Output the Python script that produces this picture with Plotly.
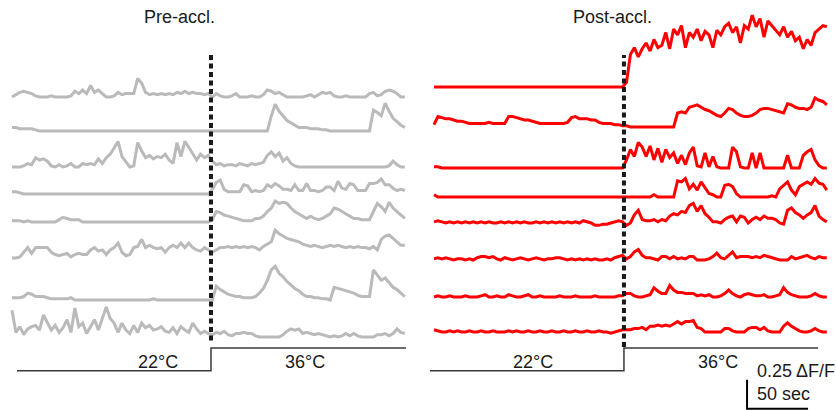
import numpy as np
import plotly.graph_objects as go

FRAME_S = 3.22  # seconds between imaging frames

# ---- dF/F traces (percent), one value per frame ----
pre_1 = [
    0, 2, 4, 5, 4, 3, 1, 0, 0, 0,
    1, 0, 0, 0, 0, 1, 5, 3, 6, 3,
    10, 4, 6, 3, 0, 0, 1, 4, 2, 3,
    3, 3, 16, 12, 4, 2, 3, 2, 3, 2,
    3, 2, 4, 3, 5, 3, 4, 3, 3, 2,
    3, 0, 3, 1, 0, 0, 1, 3, 0, 0,
    0, 1, 0, 0, 2, 6, 5, 3, 4, 2,
    0, 0, 0, 0, 0, 1, 2, 0, 2, 4,
    3, 4, 1, 0, 0, 1, 0, 0, 0, 0,
    0, 3, 4, 1, 2, 5, 6, 5, 3, 0,
    0]
pre_2 = [
    3, 3, 2, 2, 2, 2, 1, 0, 0, 0,
    0, 0, 0, 0, 0, 0, 0, 0, 0, 0,
    0, 0, 0, 0, 0, 0, 0, 0, 0, 0,
    0, 0, 0, 0, 0, 0, 0, 0, 0, 0,
    0, 0, 0, 0, 0, 0, 0, 0, 0, 0,
    0, 0, 0, 0, 0, 0, 0, 0, 0, 0,
    0, 0, 0, 0, 0, 0, 13, 23, 17, 13,
    9, 7, 5, 3, 3, 3, 2, 2, 2, 1,
    1, 0, 0, 0, 0, 0, 0, 0, 0, 0,
    0, 0, 18, 16, 13, 24, 17, 11, 8, 5,
    3]
pre_3 = [
    0, 0, 0, 1, 3, 2, 8, 6, 7, 5,
    1, 0, 2, 0, 1, 3, 0, 0, 3, 2,
    3, 2, 7, 3, 8, 11, 16, 22, 9, 4,
    0, 1, 21, 14, 8, 10, 7, 9, 8, 11,
    6, 3, 21, 9, 22, 17, 12, 6, 11, 8,
    10, 5, 2, 3, 1, 2, 2, 1, 3, 2,
    1, 3, 2, 3, 4, 10, 13, 9, 12, 5,
    8, 3, 1, 0, 0, 0, 0, 0, 0, 0,
    0, 0, 0, 0, 0, 0, 0, 0, 0, 0,
    0, 0, 0, 0, 0, 0, 1, 5, 2, 0,
    0]
pre_4 = [
    2, 2, 1, 0, 0, 0, 0, 0, 0, 0,
    0, 0, 0, 0, 0, 0, 0, 0, 0, 0,
    0, 0, 0, 0, 0, 0, 0, 0, 0, 0,
    0, 0, 0, 0, 0, 0, 0, 0, 0, 0,
    0, 0, 0, 0, 0, 0, 0, 0, 0, 0,
    0, 4, 10, 12, 4, 2, 2, 2, 2, 8,
    7, 2, 3, 2, 3, 8, 6, 9, 7, 4,
    4, 3, 8, 3, 3, 9, 3, 3, 2, 3,
    6, 6, 3, 11, 5, 4, 9, 8, 3, 3,
    3, 9, 9, 10, 13, 8, 8, 5, 3, 4,
    3]
pre_5 = [
    1, 1, 1, 0, 1, 0, 0, 0, 0, 0,
    0, 0, 2, 4, 3, 2, 2, 2, 0, 0,
    0, 0, 0, 0, 0, 0, 0, 0, 0, 0,
    0, 0, 0, 0, 0, 0, 0, 0, 0, 0,
    0, 0, 0, 0, 0, 0, 0, 0, 0, 0,
    0, 2, 9, 8, 6, 5, 4, 3, 2, 1,
    1, 1, 3, 3, 5, 9, 12, 18, 16, 17,
    16, 12, 9, 7, 5, 3, 5, 3, 2, 3,
    5, 7, 12, 11, 9, 7, 5, 3, 3, 2,
    2, 2, 9, 16, 13, 9, 17, 12, 9, 6,
    3]
pre_6 = [
    0, 0, 1, 5, 9, 4, 9, 9, 9, 9,
    5, 3, 2, 3, 4, 1, 3, 4, 3, 3,
    7, 9, 6, 7, 3, 7, 9, 13, 5, 2,
    3, 9, 10, 16, 9, 11, 9, 8, 9, 5,
    9, 11, 9, 13, 9, 13, 9, 7, 6, 9,
    7, 5, 7, 9, 9, 10, 9, 10, 9, 10,
    9, 10, 9, 7, 10, 12, 14, 24, 21, 19,
    17, 16, 15, 14, 12, 11, 10, 11, 10, 9,
    10, 11, 10, 11, 10, 9, 10, 9, 10, 9,
    9, 8, 10, 7, 16, 19, 20, 17, 14, 11,
    11]
pre_7 = [
    2, 2, 2, 3, 6, 5, 3, 3, 3, 2,
    1, 1, 1, 1, 1, 2, 0, 0, 0, 0,
    0, 0, 0, 0, 0, 0, 0, 0, 0, 0,
    0, 0, 0, 0, 0, 0, 1, 0, 0, 0,
    0, 0, 0, 0, 0, 0, 0, 0, 0, 0,
    0, 0, 12, 9, 7, 5, 4, 3, 3, 2,
    2, 2, 3, 6, 10, 17, 26, 29, 23, 20,
    16, 13, 10, 8, 5, 3, 3, 2, 2, 1,
    1, 0, 11, 10, 9, 8, 7, 6, 4, 3,
    3, 3, 26, 22, 17, 19, 15, 11, 9, 6,
    3]
pre_8 = [
    23, 4, 9, 2, 7, 9, 10, 6, 19, 12,
    6, 10, 4, 8, 15, 4, 25, 9, 12, 3,
    9, 15, 6, 17, 26, 16, 12, 4, 12, 6,
    3, 10, 4, 12, 8, 10, 6, 7, 9, 5,
    4, 8, 3, 9, 6, 4, 12, 7, 3, 5,
    3, 2, 4, 3, 5, 2, 1, 3, 3, 4,
    3, 3, 1, 0, 0, 0, 0, 0, 0, 2,
    5, 7, 6, 7, 3, 4, 3, 2, 3, 2,
    1, 0, 1, 0, 1, 3, 1, 3, 1, 0,
    0, 0, 0, 2, 2, 3, 1, 3, 7, 4,
    3]

post_1 = [
    0, 0, 0, 0, 0, 0, 0, 0, 0, 0,
    0, 0, 0, 0, 0, 0, 0, 0, 0, 0,
    0, 0, 0, 0, 0, 0, 0, 0, 0, 0,
    0, 0, 0, 0, 0, 0, 0, 0, 0, 0,
    0, 0, 0, 0, 0, 0, 0, 0, 0, 4,
    28, 34, 26, 33, 38, 31, 41, 34, 36, 47,
    33, 50, 45, 53, 34, 47, 43, 50, 40, 48,
    45, 34, 49, 45, 52, 55, 47, 52, 38, 53,
    50, 62, 52, 59, 43, 57, 53, 50, 45, 52,
    43, 48, 40, 43, 33, 41, 36, 47, 50, 53,
    52]
post_2 = [
    2, 9, 8, 7, 7, 6, 5, 5, 4, 3,
    3, 3, 3, 3, 4, 3, 3, 3, 3, 9,
    9, 8, 7, 6, 6, 5, 4, 3, 3, 3,
    3, 3, 3, 3, 4, 8, 9, 7, 7, 7,
    6, 6, 4, 3, 3, 3, 2, 2, 1, 1,
    0, 0, 0, 0, 0, 0, 0, 0, 0, 0,
    0, 0, 12, 13, 12, 17, 18, 19, 17, 15,
    14, 12, 10, 9, 12, 16, 15, 12, 10, 9,
    9, 10, 12, 15, 16, 16, 15, 14, 13, 12,
    20, 19, 17, 16, 16, 15, 17, 25, 23, 22,
    19]
post_3 = [
    1, 1, 0, 0, 0, 0, 0, 0, 0, 0,
    0, 0, 0, 0, 0, 0, 0, 0, 0, 0,
    0, 0, 0, 0, 0, 0, 0, 0, 0, 0,
    0, 0, 0, 0, 0, 0, 0, 0, 0, 0,
    0, 0, 0, 0, 0, 0, 0, 0, 0, 7,
    16, 10, 22, 18, 10, 19, 7, 17, 5, 16,
    9, 13, 4, 11, 3, 13, 18, 2, 1, 13,
    1, 10, 1, 0, 0, 0, 18, 14, 1, 0,
    0, 13, 0, 13, 0, 0, 0, 0, 0, 0,
    11, 0, 0, 0, 11, 14, 16, 7, 2, 0,
    0]
post_4 = [
    2, 0, 0, 0, 0, 0, 0, 0, 0, 0,
    0, 0, 0, 0, 0, 0, 0, 0, 0, 0,
    0, 0, 0, 0, 0, 0, 0, 0, 0, 0,
    0, 0, 0, 0, 0, 0, 0, 0, 0, 0,
    0, 0, 0, 0, 0, 0, 0, 0, 0, 0,
    0, 0, 0, 0, 0, 0, 2, 0, 0, 0,
    0, 0, 14, 13, 16, 7, 11, 6, 13, 8,
    3, 2, 0, 0, 10, 11, 9, 3, 0, 0,
    0, 0, 0, 0, 0, 0, 1, 0, 7, 10,
    13, 6, 2, 9, 11, 13, 11, 16, 12, 11,
    6]
post_5 = [
    1, 2, 1, 0, 1, 0, 1, 0, 1, 0,
    1, 0, 1, 0, 1, 0, 0, 1, 0, 1,
    0, 1, 0, 1, 0, 0, 1, 0, 1, 0,
    1, 0, 1, 0, 1, 0, 1, 0, 2, 1,
    0, -2, -2, -1, -1, 0, 1, 2, 1, -2,
    0, 7, 11, 3, 2, 2, 3, 1, 3, 2,
    6, 8, 7, 10, 9, 15, 17, 10, 15, 8,
    5, 1, 1, 0, 3, 5, 6, 1, 6, 5,
    0, 3, 5, 3, 6, 4, 4, 3, 0, -1,
    11, 13, 9, 7, 4, 7, 9, 15, 6, 3,
    1]
post_6 = [
    1, 2, 1, 2, 1, 0, 1, 1, 0, 1,
    0, 2, 3, 3, 2, 3, 1, 0, 2, 1,
    0, 1, 2, 1, 0, 1, 2, 1, 0, 1,
    1, 2, 2, 1, 0, 1, 0, 1, 0, 1,
    0, 1, 0, 0, 1, 0, 2, 3, 4, 1,
    3, 7, 9, 4, 2, 2, 1, 0, 3, 3,
    1, 3, 1, 2, 1, 3, 3, 0, 0, 0,
    1, 3, 6, 2, 1, 4, 7, 2, 3, 3,
    3, 2, 3, 2, 4, 3, 2, 1, 0, 0,
    0, 3, 1, 2, 3, 4, 2, 1, 3, 2,
    2]
post_7 = [
    0, 1, 0, 0, 1, 0, 0, 0, 1, 0,
    0, 0, 1, 2, 0, 0, 1, 0, 0, 2,
    1, 0, 0, 1, 2, 0, 0, 1, 0, 0,
    0, 0, 1, 0, 0, 0, 1, 0, 0, 0,
    0, 1, 0, 0, 0, 0, 0, 1, 1, 3,
    3, 1, 0, 0, 1, 2, 8, 5, 3, 3,
    10, 6, 4, 4, 3, 3, 3, 1, 2, 1,
    2, 0, 0, 1, 3, 6, 3, 1, 0, 2,
    3, 2, 1, 1, 2, 0, 0, 1, 2, 8,
    4, 2, 1, 0, 0, 0, 1, 3, 1, 0,
    0]
post_8 = [
    2, 1, 0, 0, 1, 0, 1, 0, 0, 1,
    0, 0, 1, 0, 0, 1, 0, 0, 0, 1,
    0, 1, 0, 0, 1, 0, 0, 1, 0, 0,
    1, 0, 0, 1, 0, 0, 1, 0, 0, 1,
    0, 0, 1, 0, 0, -1, 0, 1, 2, 2,
    2, 3, 3, 4, 2, 5, 5, 6, 5, 6,
    5, 7, 9, 7, 9, 9, 10, 4, 3, 0,
    0, 0, 0, 0, 3, 3, 1, 0, 0, 0,
    3, 4, 4, 2, 4, 1, 0, 0, 0, 5,
    8, 5, 3, 1, 0, 0, 1, 3, 1, 0,
    0]

pre_traces = [pre_1, pre_2, pre_3, pre_4, pre_5, pre_6, pre_7, pre_8]
post_traces = [post_1, post_2, post_3, post_4, post_5, post_6, post_7, post_8]

# ---- bath temperature protocol (s, degC) ----
pre_switch_s = 163.1
post_switch_s = 155.7
pre_temp_t = [4.1, pre_switch_s, 323.0]
post_temp_t = [-3.3, post_switch_s, 314.8]
temp_c = [22, 36, 36]

# scale bar
SCALE_DFF = 0.25
SCALE_SEC = 50

# ---- layout constants ----
PRE_BASE = [2.698, 2.405, 2.095, 1.862, 1.621, 1.310, 0.948, 0.629]
POST_BASE = [2.784, 2.440, 2.086, 1.836, 1.612, 1.293, 0.974, 0.672]
GRAY = "#bababa"
RED = "#ff0000"
INK = "#1a1a1a"
FONT = "Liberation Sans, Arial, sans-serif"

fig = go.Figure()


def add_traces(traces, bases, color, xa):
    for vals, base in zip(traces, bases):
        v = np.asarray(vals, dtype=float) / 100.0
        t = np.arange(len(v)) * FRAME_S
        fig.add_trace(go.Scatter(
            x=t, y=base + v, mode="lines", xaxis=xa, yaxis="y",
            line=dict(color=color, width=3), hoverinfo="skip"))


add_traces(pre_traces, PRE_BASE, GRAY, "x")
add_traces(post_traces, POST_BASE, RED, "x2")

# temperature switch markers
for xa, sw, y0 in (("x", pre_switch_s, 0.60), ("x2", post_switch_s, 0.543)):
    fig.add_trace(go.Scatter(
        x=[sw, sw], y=[y0, 3.06], mode="lines", xaxis=xa, yaxis="y",
        line=dict(color=INK, width=4, dash="5px,3.5px"), hoverinfo="skip"))

# temperature steps
for xa, tt in (("x", pre_temp_t), ("x2", post_temp_t)):
    fig.add_trace(go.Scatter(
        x=tt, y=temp_c, mode="lines", xaxis=xa, yaxis="y2",
        line=dict(color="#3a3a3a", width=1.5, shape="hv"), hoverinfo="skip"))

# scale bar
sb_t0, sb_y0 = 256.6, 0.01
fig.add_trace(go.Scatter(
    x=[sb_t0, sb_t0, sb_t0 + SCALE_SEC],
    y=[sb_y0 + SCALE_DFF, sb_y0, sb_y0],
    mode="lines", xaxis="x2", yaxis="y",
    line=dict(color="#000000", width=2), hoverinfo="skip"))

txt = dict(family=FONT, size=18, color=INK)
ann = [
    dict(text="Pre-accl.", x=0.2153, y=0.9585, xref="paper", yref="paper"),
    dict(text="Post-accl.", x=0.733, y=0.9585, xref="paper", yref="paper"),
    dict(text="22°C", x=119.7, y=0.117, xref="x", yref="paper"),
    dict(text="36°C", x=240.2, y=0.117, xref="x", yref="paper"),
    dict(text="22°C", x=81.1, y=0.117, xref="x2", yref="paper"),
    dict(text="36°C", x=232.8, y=0.117, xref="x2", yref="paper"),
    dict(text=f"{SCALE_DFF} ΔF/F", x=0.9031, y=0.0951, xref="paper",
         yref="paper", xanchor="left"),
    dict(text=f"{SCALE_SEC} sec", x=0.9031, y=0.039, xref="paper",
         yref="paper", xanchor="left"),
]
for a in ann:
    a.setdefault("xanchor", "center")
    a.update(yanchor="middle", showarrow=False, font=txt)

hidden = dict(visible=False, showgrid=False, zeroline=False, fixedrange=True)
fig.update_layout(
    width=836, height=410,
    margin=dict(l=0, r=0, t=0, b=0),
    paper_bgcolor="white", plot_bgcolor="white",
    showlegend=False,
    xaxis=dict(domain=[0, 0.5], range=[-9.836, 332.79], anchor="y", **hidden),
    xaxis2=dict(domain=[0.5, 1], range=[-13.115, 329.51], anchor="y", **hidden),
    yaxis=dict(domain=[0, 1], range=[0, 3.5345], anchor="x", **hidden),
    yaxis2=dict(range=[-2.24, 250.7], overlaying="y", anchor="x", **hidden),
    annotations=ann,
)

fig.write_html("out.html")
